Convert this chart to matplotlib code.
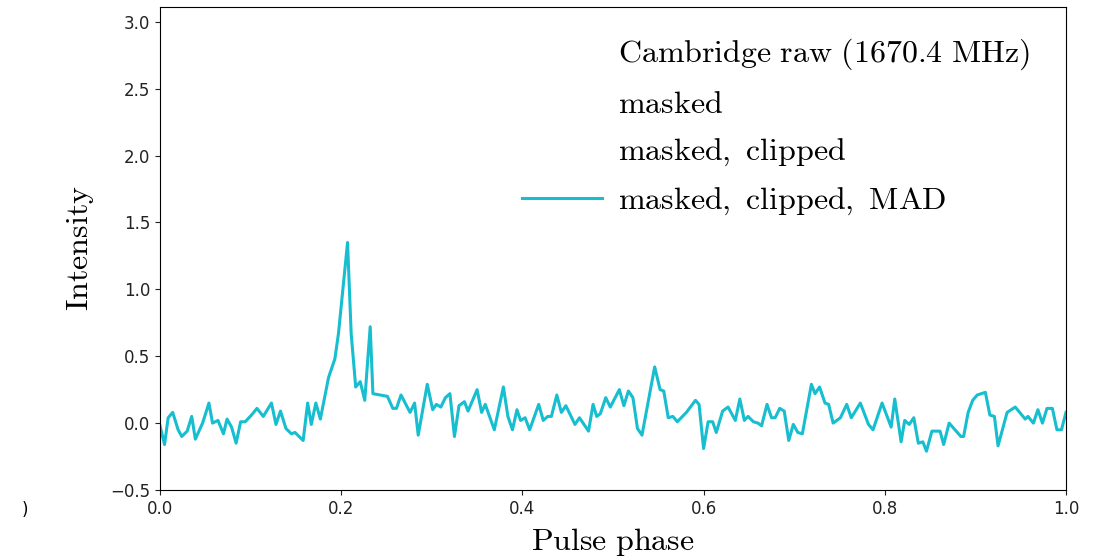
import numpy as np
import matplotlib
matplotlib.use("Agg")
import matplotlib.pyplot as plt

plt.rcParams['mathtext.fontset'] = 'cm'

# pulse profile after masking, clipping and MAD cleaning
phase = [0.0, 0.005, 0.009, 0.014, 0.020, 0.024, 0.030, 0.035, 0.039, 0.047,
         0.054, 0.058, 0.064, 0.070, 0.074, 0.079, 0.084, 0.089, 0.094, 0.101,
         0.107, 0.114, 0.123, 0.128, 0.133, 0.139, 0.145, 0.149, 0.158, 0.163,
         0.167, 0.172, 0.177, 0.186, 0.193, 0.197, 0.207, 0.211, 0.216, 0.221,
         0.226, 0.232, 0.235, 0.251, 0.257, 0.261, 0.266, 0.276, 0.281, 0.285,
         0.295, 0.301, 0.305, 0.310, 0.315, 0.320, 0.325, 0.330, 0.336, 0.340,
         0.350, 0.355, 0.359, 0.369, 0.379, 0.384, 0.389, 0.394, 0.398, 0.403,
         0.408, 0.418, 0.423, 0.428, 0.432, 0.438, 0.443, 0.448, 0.458, 0.463,
         0.473, 0.478, 0.482, 0.486, 0.492, 0.497, 0.507, 0.512, 0.517, 0.522,
         0.527, 0.532, 0.546, 0.552, 0.556, 0.561, 0.566, 0.571, 0.581, 0.591,
         0.595, 0.600, 0.605, 0.610, 0.614, 0.621, 0.627, 0.635, 0.640, 0.645,
         0.649, 0.655, 0.660, 0.664, 0.670, 0.675, 0.679, 0.684, 0.689, 0.694,
         0.699, 0.704, 0.709, 0.719, 0.723, 0.728, 0.734, 0.738, 0.743, 0.751,
         0.758, 0.763, 0.773, 0.782, 0.787, 0.797, 0.807, 0.811, 0.818, 0.822,
         0.827, 0.832, 0.837, 0.842, 0.846, 0.852, 0.861, 0.865, 0.871, 0.884,
         0.887, 0.892, 0.897, 0.902, 0.911, 0.916, 0.921, 0.925, 0.935, 0.944,
         0.955, 0.958, 0.964, 0.969, 0.974, 0.979, 0.985, 0.990, 0.995, 1.0]
intensity = [-0.02, -0.16, 0.04, 0.08, -0.05, -0.10, -0.06, 0.05, -0.12, 0.0,
             0.15, 0.0, 0.02, -0.08, 0.03, -0.03, -0.15, 0.01, 0.01, 0.06,
             0.11, 0.05, 0.15, -0.01, 0.09, -0.04, -0.08, -0.07, -0.13, 0.15,
             -0.01, 0.15, 0.03, 0.34, 0.48, 0.67, 1.35, 0.67, 0.27, 0.31,
             0.17, 0.72, 0.22, 0.20, 0.11, 0.11, 0.21, 0.08, 0.15, -0.09,
             0.29, 0.10, 0.14, 0.12, 0.19, 0.22, -0.10, 0.13, 0.16, 0.09,
             0.25, 0.08, 0.14, -0.05, 0.27, 0.05, -0.05, 0.10, 0.02, 0.04,
             -0.05, 0.14, 0.02, 0.05, 0.05, 0.21, 0.08, 0.13, -0.01, 0.04,
             -0.06, 0.14, 0.05, 0.07, 0.19, 0.12, 0.25, 0.13, 0.24, 0.19,
             -0.04, -0.09, 0.42, 0.25, 0.24, 0.04, 0.05, 0.01, 0.08, 0.17,
             0.14, -0.19, 0.01, 0.01, -0.07, 0.09, 0.12, 0.02, 0.18, 0.02,
             0.05, 0.01, 0.0, -0.02, 0.14, 0.04, 0.04, 0.11, 0.09, -0.13,
             -0.01, -0.07, -0.08, 0.29, 0.22, 0.27, 0.15, 0.14, 0.0, 0.04,
             0.14, 0.04, 0.15, -0.01, -0.05, 0.15, -0.03, 0.18, -0.14, 0.02,
             -0.01, 0.04, -0.15, -0.14, -0.21, -0.06, -0.06, -0.16, 0.0, -0.10,
             -0.10, 0.08, 0.17, 0.21, 0.23, 0.06, 0.05, -0.17, 0.08, 0.12,
             0.03, 0.05, 0.0, 0.10, 0.0, 0.11, 0.11, -0.05, -0.05, 0.08]

labels = [r'$\mathrm{Cambridge\ raw\ (1670.4\ MHz)}$',
          r'$\mathrm{masked}$',
          r'$\mathrm{masked,\ clipped}$',
          r'$\mathrm{masked,\ clipped,\ MAD}$']

fig = plt.figure(figsize=(11.05, 5.6), dpi=100)
ax = fig.add_axes([0.1448, 0.125, 0.8199, 0.8625])

# earlier stages are left empty, only the final profile is drawn
for lab in labels[:3]:
    ax.plot([], [], color='none', label=lab)
ax.plot(phase, intensity, color='#17becf', lw=2.2, label=labels[3])

ax.set_xlim(0, 1)
ax.set_ylim(-0.5, 3.11)
ax.set_xticks(np.arange(0, 1.01, 0.2))
ax.set_yticks(np.arange(-0.5, 3.01, 0.5))
ax.tick_params(labelsize=12, colors='#222222')
ax.set_xlabel(r'$\mathrm{Pulse\ phase}$', fontsize=23, labelpad=6)
ax.set_ylabel(r'$\mathrm{Intensity}$', fontsize=23, labelpad=10)

ax.legend(loc='upper right', bbox_to_anchor=(0.9746, 0.9654),
          borderaxespad=0, fontsize=23, frameon=False,
          handlelength=2.5, handletextpad=0.5, labelspacing=0.52)

fig.text(25 / 1105, 1 - 510 / 560, ')', fontsize=12, ha='center', va='center')

fig.savefig('out.png', dpi=100)
